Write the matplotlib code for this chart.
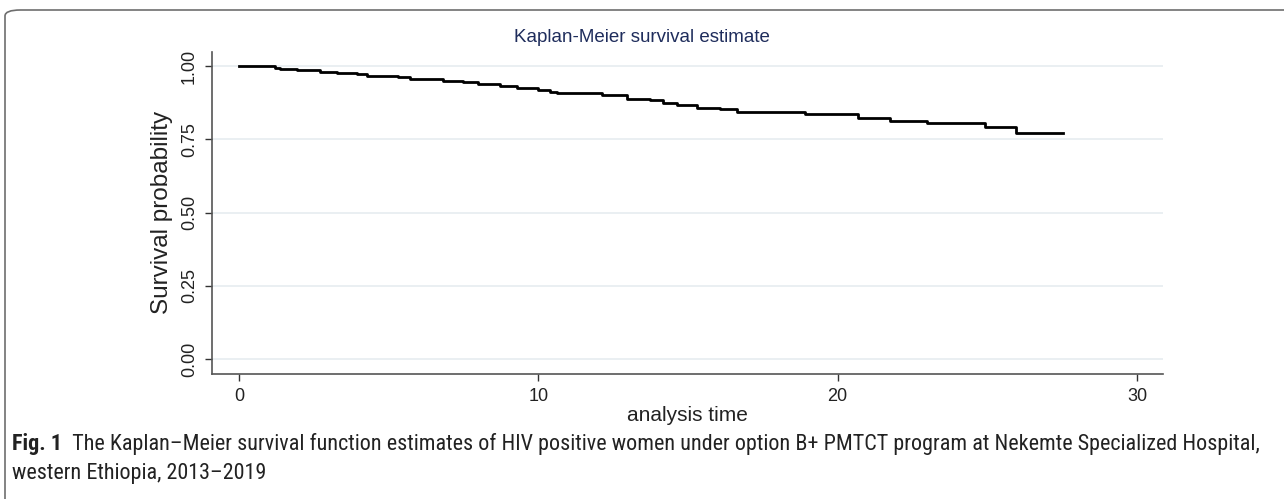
import matplotlib
matplotlib.use("Agg")
import matplotlib.pyplot as plt
from matplotlib import font_manager
from matplotlib.font_manager import FontProperties
from matplotlib.patches import FancyBboxPatch

# Data: step times (event times) and survival after each step
times = [0.0, 1.20, 1.37, 1.94, 2.71, 3.27, 3.94, 4.28, 5.31, 5.71, 6.82, 7.48,
         7.99, 8.72, 9.29, 9.99, 10.39, 10.62, 12.13, 12.96, 13.73, 14.17,
         14.63, 15.30, 16.07, 16.64, 18.91, 20.68, 21.75, 22.99, 24.93, 25.96]
surv = [1.000, 0.994, 0.990, 0.985, 0.980, 0.975, 0.972, 0.967, 0.963, 0.955,
        0.950, 0.945, 0.938, 0.932, 0.925, 0.918, 0.912, 0.907, 0.901, 0.889,
        0.883, 0.874, 0.866, 0.857, 0.853, 0.843, 0.837, 0.823, 0.812, 0.804,
        0.792, 0.770]
last_time = 27.53

yticks = [0.0, 0.25, 0.5, 0.75, 1.0]
ytick_labels = ["0.00", "0.25", "0.50", "0.75", "1.00"]
xticks = [0, 10, 20, 30]
title = "Kaplan-Meier survival estimate"
xlabel = "analysis time"
ylabel = "Survival probability"
caption_bold = "Fig. 1"
caption_1 = "  The Kaplan\u2013Meier survival function estimates of HIV positive women under option B+ PMTCT program at Nekemte Specialized Hospital,"
caption_2 = "western Ethiopia, 2013\u20132019"

names = {f.name for f in font_manager.fontManager.ttflist}
main_font = "Liberation Sans" if "Liberation Sans" in names else "DejaVu Sans"
plt.rcParams["font.family"] = main_font


def is_condensed(f):
    s = str(f.stretch).lower()
    n = (f.name + " " + f.fname).lower()
    return ("condensed" in s or "narrow" in n or "condensed" in n
            or (isinstance(f.stretch, int) and f.stretch < 500))


def wnum(w):
    if isinstance(w, int):
        return w
    return {"normal": 400, "regular": 400, "book": 400, "bold": 700,
            "medium": 500, "semibold": 600, "light": 300}.get(str(w).lower(), 400)


reg_fp, bold_fp = None, None
cands = [f for f in font_manager.fontManager.ttflist
         if is_condensed(f) and f.style == "normal"]
pref = ["Liberation Sans Narrow", "Open Sans", "Roboto", "DejaVu Sans", "Noto Sans"]
cands.sort(key=lambda f: next((i for i, p in enumerate(pref) if f.name.startswith(p)), 99))
for f in cands:
    if reg_fp is None and wnum(f.weight) == 400:
        reg_fp = f
for f in cands:
    if bold_fp is None and wnum(f.weight) == 700 and reg_fp is not None and f.name == reg_fp.name:
        bold_fp = f
if reg_fp is not None:
    reg_prop = FontProperties(fname=reg_fp.fname)
    bold_prop = FontProperties(fname=bold_fp.fname) if bold_fp else FontProperties(family=main_font, weight="bold")
else:
    reg_prop = FontProperties(family=main_font)
    bold_prop = FontProperties(family=main_font, weight="bold")

fig = plt.figure(figsize=(12.84, 4.99), dpi=100)

# frame
frame = FancyBboxPatch((5 / 1284, -0.2), 1.3, 1.2 - 10 / 499,
                       boxstyle="round,pad=0,rounding_size=0.012",
                       transform=fig.transFigure, fill=False,
                       edgecolor="#6e6e6e", linewidth=1.2, clip_on=False)
fig.patches.append(frame)

ax = fig.add_axes([212 / 1284, 125 / 499, 951 / 1284, 322.3 / 499])
xs = list(times) + [last_time]
ys = list(surv) + [surv[-1]]
ax.step(xs, ys, where="post", color="black", linewidth=2.0)

ax.set_xlim(-0.9, 30.87)
ax.set_ylim(-0.051, 1.049)
ax.set_yticks(yticks)
ax.set_yticklabels(ytick_labels, rotation=90, va="center")
ax.set_xticks(xticks)
ax.grid(axis="y", color="#e8eef1", linewidth=1.3)
ax.grid(axis="x", visible=False)
ax.set_axisbelow(True)
for s in ["top", "right"]:
    ax.spines[s].set_visible(False)
for s in ["left", "bottom"]:
    ax.spines[s].set_color("#555555")
    ax.spines[s].set_linewidth(1.2)
ax.tick_params(axis="both", labelsize=13, length=5, width=1, color="#333333",
               labelcolor="#222222", pad=5)
ax.set_xlabel(xlabel, fontsize=15, color="#222222", labelpad=1)
ax.set_ylabel(ylabel, fontsize=17.5, color="#222222", labelpad=6)

fig.text(0.5, 1 - 38 / 499, title, ha="center", va="center", fontsize=13.5,
         color="#1f2d5c")

cap_size = 11.5
r = fig.canvas.get_renderer()
tb = fig.text(12 / 1284, 1 - 444 / 499, caption_bold, ha="left", va="center",
              fontproperties=bold_prop, color="#222222")
t1 = fig.text(0, 1 - 444 / 499, caption_1, ha="left", va="center",
              fontproperties=reg_prop, color="#222222")
t2 = fig.text(12 / 1284, 1 - 474 / 499, caption_2, ha="left", va="center",
              fontproperties=reg_prop, color="#222222")


def layout(size):
    for t in (tb, t1, t2):
        t.set_fontsize(size)
    bb = tb.get_window_extent(renderer=r)
    t1.set_x(bb.x1 / fig.bbox.width)
    return t1.get_window_extent(renderer=r).x1


# scale caption so its first line ends near x=1262 px
end = layout(cap_size)
cap_size = cap_size * (1262 - 12) / (end - 12)
layout(cap_size)

fig.savefig("out.png", dpi=100)
